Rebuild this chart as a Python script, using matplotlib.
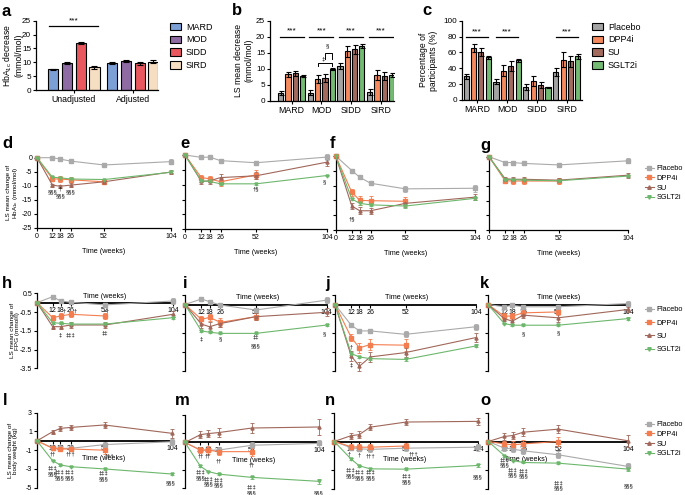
import numpy as np
import matplotlib.pyplot as plt
from matplotlib.lines import Line2D
from matplotlib.patches import Patch

plt.rcParams['font.family'] = ['Liberation Sans', 'DejaVu Sans']
plt.rcParams['axes.unicode_minus'] = False
plt.rcParams['mathtext.default'] = 'regular'

W, H = 685, 495

# ---------------- panel a ----------------
clusters = ['MARD', 'MOD', 'SIDD', 'SIRD']
a_groups = ['Unadjusted', 'Adjusted']
a_unadj = [7.45, 9.8, 17.05, 8.15]
a_unadj_err = [0.3, 0.45, 0.4, 0.45]
a_adj = [9.85, 10.6, 9.6, 10.2]
a_adj_err = [0.35, 0.4, 0.5, 0.5]
cluster_colors = ['#7C9FD6', '#8F6BA3', '#E8585E', '#F6DEC2']

# ---------------- panels b, c ----------------
treatments = ['Placebo', 'DPP4i', 'SU', 'SGLT2i']
b_vals = {
    'Placebo': [2.3, 2.5, 10.9, 2.6],
    'DPP4i': [8.2, 6.7, 15.5, 8.0],
    'SU': [8.5, 7.0, 16.0, 7.7],
    'SGLT2i': [7.7, 9.9, 17.1, 8.0],
}
b_err = {
    'Placebo': [0.6, 0.8, 0.9, 0.9],
    'DPP4i': [0.9, 1.3, 1.7, 1.5],
    'SU': [0.9, 1.3, 1.4, 1.2],
    'SGLT2i': [0.3, 0.4, 0.6, 0.5],
}
c_vals = {
    'Placebo': [30, 23, 16, 35],
    'DPP4i': [65, 37, 24, 51],
    'SU': [60, 43, 19, 49],
    'SGLT2i': [54, 50, 16, 55],
}
c_err = {
    'Placebo': [3, 3, 4, 5],
    'DPP4i': [5, 7, 6, 9],
    'SU': [5, 6, 4, 7],
    'SGLT2i': [2, 2, 1, 3],
}
bar_colors = {'Placebo': '#A3A3A3', 'DPP4i': '#F58A5E', 'SU': '#A26B5E', 'SGLT2i': '#73BA73'}
line_colors = {'Placebo': '#AAAAAA', 'DPP4i': '#F47D4F', 'SU': '#A0675A', 'SGLT2i': '#6DB76D'}
markers = {'Placebo': 's', 'DPP4i': 's', 'SU': '^', 'SGLT2i': 'v'}

# ---------------- time courses ----------------
weeks = [0, 12, 18, 26, 52, 104]

hba_mean = {
    'd': {'Placebo': [0, 0, -0.5, -1.2, -2.6, -1.4],
          'DPP4i': [0, -7.6, -7.6, -7.9, -8.6],
          'SU': [0, -9.8, -10.2, -9.8, -8.6, -5.1],
          'SGLT2i': [0, -7.0, -7.2, -7.6, -7.8, -5.2]},
    'e': {'Placebo': [0, -0.8, -0.7, -1.9, -2.6, -0.7],
          'DPP4i': [0, -7.6, -8.0, -9.0, -6.7],
          'SU': [0, -8.9, -8.7, -7.6, -7.0, -2.4],
          'SGLT2i': [0, -8.7, -8.9, -9.7, -9.7, -6.9]},
    'f': {'Placebo': [0, -4.9, -7.2, -9.2, -11.1, -10.9],
          'DPP4i': [0, -12.2, -15.0, -15.1, -15.3],
          'SU': [0, -16.9, -18.5, -18.5, -16.0, -13.9],
          'SGLT2i': [0, -14.5, -16.0, -16.5, -16.9, -14.3]},
    'g': {'Placebo': [0, -2.0, -2.0, -2.3, -2.8, -1.4],
          'DPP4i': [0, -8.2, -8.3, -8.3, -8.3],
          'SU': [0, -7.5, -7.7, -7.7, -8.0, -6.3],
          'SGLT2i': [0, -7.8, -7.8, -8.0, -8.2, -6.6]},
}
hba_err = {
    'd': {'Placebo': [0, 0.3, 0.3, 0.4, 0.4, 0.8], 'DPP4i': [0, 0.8, 0.9, 0.9, 0.9],
          'SU': [0, 0.5, 0.5, 0.6, 0.6, 0.6], 'SGLT2i': [0, 0.3, 0.3, 0.3, 0.3, 0.3]},
    'e': {'Placebo': [0, 0.3, 0.3, 0.5, 0.6, 1.0], 'DPP4i': [0, 1.0, 1.1, 1.3, 1.5],
          'SU': [0, 0.8, 0.9, 1.2, 1.2, 1.2], 'SGLT2i': [0, 0.3, 0.3, 0.3, 0.3, 0.3]},
    'f': {'Placebo': [0, 0.5, 0.6, 0.7, 0.9, 1.1], 'DPP4i': [0, 1.2, 1.4, 1.6, 1.5],
          'SU': [0, 1.0, 1.2, 1.1, 1.2, 1.1], 'SGLT2i': [0, 0.4, 0.4, 0.4, 0.5, 0.5]},
    'g': {'Placebo': [0, 0.4, 0.4, 0.5, 0.6, 0.8], 'DPP4i': [0, 0.8, 0.9, 1.0, 1.1],
          'SU': [0, 0.7, 0.7, 0.8, 0.8, 0.9], 'SGLT2i': [0, 0.3, 0.3, 0.3, 0.3, 0.3]},
}
fpg_mean = {
    'h': {'Placebo': [0, 0.32, 0.09, 0.02, -0.12, 0.09],
          'DPP4i': [0, -0.8, -0.71, -0.62, -0.71],
          'SU': [0, -1.28, -1.28, -1.19, -1.19, -0.62],
          'SGLT2i': [0, -1.07, -1.1, -1.14, -1.14, -0.8]},
    'i': {'Placebo': [0, 0.29, 0.15, -0.03, -0.29, 0.23],
          'DPP4i': [0, -0.78, -0.68, -0.94, -0.64],
          'SU': [0, -1.03, -1.17, -1.0, -0.64, -0.41],
          'SGLT2i': [0, -1.39, -1.46, -1.52, -1.52, -1.08]},
    'j': {'Placebo': [0, -1.09, -1.39, -1.39, -1.57, -1.17],
          'DPP4i': [0, -1.74, -2.28, -2.11, -2.14],
          'SU': [0, -2.72, -3.25, -2.76, -2.53, -1.74],
          'SGLT2i': [0, -2.58, -2.76, -2.85, -2.89, -2.18]},
    'k': {'Placebo': [0, -0.12, -0.04, -0.12, -0.12, 0.05],
          'DPP4i': [0, -0.61, -0.61, -0.44, -0.39],
          'SU': [0, -0.74, -0.88, -0.56, -0.7, -0.26],
          'SGLT2i': [0, -1.0, -1.09, -1.09, -1.09, -0.74]},
}
fpg_err = {
    'h': {'Placebo': [0, .1, .1, .1, .12, .15], 'DPP4i': [0, .15, .15, .15, .15],
          'SU': [0, .15, .15, .15, .15, .15], 'SGLT2i': [0, .05, .05, .05, .05, .05]},
    'i': {'Placebo': [0, .1, .1, .1, .12, .15], 'DPP4i': [0, .2, .2, .22, .2],
          'SU': [0, .2, .25, .2, .2, .2], 'SGLT2i': [0, .04, .04, .04, .04, .05]},
    'j': {'Placebo': [0, .1, .1, .1, .15, .15], 'DPP4i': [0, .2, .25, .3, .3],
          'SU': [0, .25, .25, .25, .25, .25], 'SGLT2i': [0, .06, .06, .06, .06, .08]},
    'k': {'Placebo': [0, .1, .1, .1, .1, .15], 'DPP4i': [0, .15, .15, .15, .15],
          'SU': [0, .15, .15, .15, .2, .15], 'SGLT2i': [0, .04, .04, .04, .04, .06]},
}
bw_mean = {
    'l': {'Placebo': [0, -0.75, -0.8, -0.8, -0.4, -0.1],
          'DPP4i': [0, -0.8, -0.87, -0.87, -1.0],
          'SU': [0, 0.97, 1.33, 1.43, 1.69, 0.8],
          'SGLT2i': [0, -2.12, -2.58, -2.76, -3.0, -3.54]},
    'm': {'Placebo': [0, -0.83, -0.83, -0.83, -0.3, -0.1],
          'DPP4i': [0, -0.83, -0.83, -1.0, -1.0],
          'SU': [0, 0.86, 0.97, 1.08, 1.58, 1.69],
          'SGLT2i': [0, -2.6, -3.17, -3.45, -3.81, -4.24]},
    'n': {'Placebo': [0, -0.65, -0.76, -0.83, -0.7, -0.6],
          'DPP4i': [0, -0.54, -0.6, -0.6, -0.47],
          'SU': [0, 0.61, 0.72, 1.51, 2.05, 2.12],
          'SGLT2i': [0, -1.83, -2.55, -2.88, -2.91, -2.52]},
    'o': {'Placebo': [0, -0.7, -0.8, -0.98, -1.4, -2.63],
          'DPP4i': [0, -0.25, -0.35, -0.25, 0.0],
          'SU': [0, 0.53, 0.63, 0.98, 1.3, 0.07],
          'SGLT2i': [0, -1.5, -2.0, -2.21, -2.28, -2.91]},
}
bw_err = {
    'l': {'Placebo': [0, .2, .2, .2, .3, .3], 'DPP4i': [0, .2, .2, .25, .4],
          'SU': [0, .2, .25, .3, .3, .5], 'SGLT2i': [0, .08, .08, .08, .1, .15]},
    'm': {'Placebo': [0, .25, .25, .3, .3, .4], 'DPP4i': [0, .3, .4, .4, .5],
          'SU': [0, .4, .4, .5, .5, .9], 'SGLT2i': [0, .1, .1, .1, .15, .25]},
    'n': {'Placebo': [0, .25, .25, .3, .3, .35], 'DPP4i': [0, .3, .3, .3, .35],
          'SU': [0, .3, .35, .35, .35, .35], 'SGLT2i': [0, .1, .1, .1, .1, .15]},
    'o': {'Placebo': [0, .25, .3, .3, .35, .4], 'DPP4i': [0, .3, .4, .4, .5],
          'SU': [0, .35, .4, .4, .45, .6], 'SGLT2i': [0, .1, .1, .1, .1, .15]},
}

# significance symbols: (week, value, text)
notes = {
    'd': [(12, -12.2, '§§§'), (18, -11.3, '†'), (18, -13.6, '§§§'), (26, -12.2, '§§§')],
    'e': [(52, -11.4, '†§'), (102, -8.9, '§')],
    'f': [(12, -21.1, '†§')],
    'g': [],
    'h': [(21, -0.45, '†'), (29, -0.45, '†'), (54, -0.45, '†'),
          (18, -1.72, '‡'), (26, -1.72, '‡‡‡'), (52, -1.64, '‡‡')],
    'i': [(12, -1.82, '‡'), (26, -1.82, '§'), (52, -1.69, '‡‡'), (52, -2.17, '§§§'), (102, -1.52, '§')],
    'j': [(12, -2.24, '†'), (12, -3.2, '‡')],
    'k': [(26, -1.53, '§'), (52, -1.47, '§')],
    'l': [(12, -1.44, '††'), (26, -1.44, '†††'), (56, -1.6, '†††'),
          (12, -2.87, '‡‡‡'), (12, -3.48, '§§§'), (17, -3.3, '‡‡‡'), (17, -3.9, '§§§'),
          (25, -3.3, '‡‡‡'), (25, -3.9, '§§§'), (51, -3.48, '‡‡‡'), (51, -4.1, '§§§'),
          (103, -4.5, '§§§')],
    'm': [(12, -1.47, '††'), (18, -1.47, '††'), (26, -2.0, '††'), (52, -2.45, '††'),
          (12, -3.27, '‡‡‡'), (12, -3.84, '§§§'), (18, -3.96, '‡‡‡'), (18, -4.5, '§§§'),
          (26, -4.05, '‡‡‡'), (26, -4.6, '§§§'), (52, -4.9, '‡‡‡'), (52, -5.5, '§§§'),
          (104, -5.5, '§§§')],
    'n': [(11, -1.29, '†'), (18, -1.45, '†'), (26, -1.55, '†††'), (57, -1.3, '†††'),
          (12, -3.0, '‡‡‡'), (12, -3.6, '§§§'), (18, -3.2, '‡‡‡'), (18, -3.85, '§§§'),
          (26, -3.2, '‡‡‡'), (26, -3.85, '§§§'), (52, -3.63, '‡‡‡'), (52, -4.24, '§§§'),
          (104, -3.7, '§§§')],
    'o': [(12, -1.93, '‡‡‡'), (12, -2.46, '§§§'), (18, -3.0, '‡‡‡'), (18, -3.55, '§§§'),
          (26, -3.1, '‡‡‡'), (26, -3.65, '§§§'), (52, -4.4, '‡‡‡'), (52, -4.9, '§§§'),
          (104, -4.7, '§§§')],
}

fig = plt.figure(figsize=(W / 100, H / 100), dpi=100)


def box(x0, y0, x1, y1):
    # axes rectangle given in pixel coordinates of the reference
    return fig.add_axes([x0 / W, 1 - y1 / H, (x1 - x0) / W, (y1 - y0) / H])


def clean(ax, size=5.9):
    for s in ['top', 'right']:
        ax.spines[s].set_visible(False)
    for s in ['left', 'bottom']:
        ax.spines[s].set_linewidth(0.9)
    ax.tick_params(length=2.2, width=0.8, labelsize=size, pad=1.3)


def plabel(x, y, t):
    fig.text(x / W, 1 - y / H, t, fontsize=12, fontweight='bold', va='baseline')


# ---------- a ----------
ax = box(36, 20.7, 158, 90)
clean(ax)
ax.tick_params(axis='x', labelsize=6.3)
step, bw = 0.235, 0.17
for k in range(4):
    off = (k - 1.5) * step
    ax.bar([0 + off, 1 + off], [a_unadj[k], a_adj[k]], bw, color=cluster_colors[k],
           edgecolor='black', linewidth=0.8,
           yerr=[a_unadj_err[k], a_adj_err[k]],
           error_kw=dict(elinewidth=0.8, capsize=2, capthick=0.8))
ax.set_xlim(-0.64, 1.43)
ax.set_ylim(0, 25)
ax.set_yticks([0, 5, 10, 15, 20, 25])
ax.set_xticks([0, 1])
ax.set_xticklabels(a_groups)
ax.plot([-0.42, 0.42], [23.2, 23.2], color='black', lw=0.9, clip_on=False)
ax.text(0, 23.6, '***', ha='center', va='bottom', fontsize=6)
ax.set_ylabel('HbA$_{1c}$ decrease\n(mmol/mol)', fontsize=6.2, linespacing=1.1)
ax.yaxis.set_label_coords(-0.1, 0.5)
fig.legend([Patch(facecolor=c, edgecolor='black', linewidth=0.8) for c in cluster_colors], clusters,
           loc='upper left', bbox_to_anchor=(166 / W, 1 - 19 / H), frameon=False, fontsize=6.5,
           handlelength=1.3, handleheight=0.9, handletextpad=0.5, labelspacing=0.42, borderaxespad=0)
plabel(2, 16, 'a')


def grouped(ax, vals, errs, step, bw):
    for k, t in enumerate(treatments):
        off = (k - 1.5) * step
        ax.bar(np.arange(4) + off, vals[t], bw, color=bar_colors[t], edgecolor='black',
               linewidth=0.8, yerr=errs[t], error_kw=dict(elinewidth=0.8, capsize=1.8, capthick=0.8))
    ax.set_xticks(range(4))
    ax.set_xticklabels(clusters)
    ax.tick_params(axis='x', labelsize=6.3)


# ---------- b ----------
ax = box(270, 20.7, 394, 100.7)
clean(ax)
grouped(ax, b_vals, b_err, 0.247, 0.17)
ax.set_xlim(-0.73, 3.45)
ax.set_ylim(0, 25)
ax.set_yticks([0, 5, 10, 15, 20, 25])
for g in range(4):
    ax.plot([g - 0.4, g + 0.4], [20, 20], color='black', lw=0.9)
    ax.text(g, 20.6, '***', ha='center', va='bottom', fontsize=6)
ax.plot([0.877, 0.877, 1.37, 1.37], [10.8, 11.8, 11.8, 10.8], color='black', lw=0.7)
ax.plot([1.123, 1.123, 1.37, 1.37], [12.9, 14.8, 14.8, 12.9], color='black', lw=0.7)
ax.text(1.08, 12.9, '‡', ha='center', va='center', fontsize=4.5)
ax.text(1.2, 17.0, '§', ha='center', va='center', fontsize=4.5)
ax.set_ylabel('LS mean decrease\n(mmol/mol)', fontsize=6.2, linespacing=1.1)
ax.yaxis.set_label_coords(-0.137, 0.5)
plabel(232, 15, 'b')

# ---------- c ----------
ax = box(462, 20.7, 582, 100)
clean(ax)
grouped(ax, c_vals, c_err, 0.247, 0.17)
ax.set_xlim(-0.51, 3.51)
ax.set_ylim(0, 100)
ax.set_yticks([0, 20, 40, 60, 80, 100])
for g in [0, 1, 3]:
    ax.plot([g - 0.37, g + 0.37], [80, 80], color='black', lw=0.9)
    ax.text(g, 82, '***', ha='center', va='bottom', fontsize=6)
ax.set_ylabel('Percentage of\nparticipants (%)', fontsize=6.2, linespacing=1.1)
ax.yaxis.set_label_coords(-0.2, 0.5)
fig.legend([Patch(facecolor=bar_colors[t], edgecolor='black', linewidth=0.8) for t in treatments], treatments,
           loc='upper left', bbox_to_anchor=(588 / W, 1 - 19 / H), frameon=False, fontsize=6.5,
           handlelength=1.3, handleheight=0.9, handletextpad=0.5, labelspacing=0.42, borderaxespad=0)
plabel(422, 15, 'c')


def time_panel(ax, means, errs, note):
    for t in treatments:
        y = means[t]
        ax.errorbar(weeks[:len(y)], y, yerr=errs[t], color=line_colors[t], marker=markers[t],
                    ms=2.2, lw=0.8, elinewidth=0.6, capsize=1.6, capthick=0.6, clip_on=False, zorder=3)
    for wk, yy, s in note:
        ax.text(wk, yy, s, ha='center', va='center', fontsize=4.2, clip_on=False, zorder=4)
    ax.set_xlim(0, 104)


def series_legend(x, y, spacing):
    hs = [Line2D([], [], color=line_colors[t], marker=markers[t], ms=2.5, lw=0.8) for t in treatments]
    fig.legend(hs, treatments, loc='upper left', bbox_to_anchor=(x / W, 1 - y / H), frameon=False,
               fontsize=5.3, handlelength=1.2, handletextpad=0.4, labelspacing=spacing, borderaxespad=0)


# ---------- row 2: HbA1c ----------
row2 = {'d': (37, 157.7, 171, 227.7), 'e': (185, 155, 327, 229.3),
        'f': (335.7, 156, 475, 230), 'g': (489, 156.7, 628.3, 230)}
for key, rect in row2.items():
    ax = box(*rect)
    clean(ax, 5)
    time_panel(ax, hba_mean[key], hba_err[key], notes[key])
    ax.set_ylim(-25, 0)
    ax.set_yticks([0, -5, -10, -15, -20, -25])
    ax.set_xticks(weeks)
    ax.set_xticklabels(['0', '12', '18', '26', '52', '104'])
    ax.set_xlabel('Time (weeks)', fontsize=5.2, labelpad=6)
    if key == 'd':
        ax.set_ylabel('LS mean change of\nHbA$_{1c}$ (mmol/mol)', fontsize=4.6, linespacing=1.0)
        ax.yaxis.set_label_coords(-0.13, 0.5)
    else:
        ax.set_yticklabels([])
series_legend(642, 162, 0.35)
plabel(2, 148.3, 'd')
plabel(180, 148.3, 'e')
plabel(330, 148.3, 'f')
plabel(480, 150, 'g')


def zero_axis(ax):
    ax.spines['bottom'].set_position(('data', 0))
    ax.spines['bottom'].set_linewidth(1.3)
    ax.spines['bottom'].set_color('black')
    ax.set_xticks(weeks[1:])
    ax.set_xticklabels(['12', '18', '26', '52', '104'])
    ax.tick_params(axis='x', length=2, pad=1)


# ---------- row 3: FPG ----------
row3 = {'h': (37, 293.3, 173, 368.3, 0.5), 'i': (185, 295, 326.7, 371, 0.51),
        'j': (335, 295, 476, 371, 0.51), 'k': (488, 295, 628.3, 371, 0.5)}
for key, (x0, y0, x1, y1, lx) in row3.items():
    ax = box(x0, y0, x1, y1)
    clean(ax, 5)
    time_panel(ax, fpg_mean[key], fpg_err[key], notes[key])
    ax.set_ylim(-3.5, 0.5)
    ax.set_yticks([0.5, -0.5, -1.5, -2.5, -3.5])
    zero_axis(ax)
    ax.set_xlabel('Time (weeks)', fontsize=5.2)
    ax.xaxis.set_label_coords(lx, 1.01)
    if key == 'h':
        ax.set_ylabel('LS mean change of\nFPG (mmol/l)', fontsize=4.6, linespacing=1.0)
        ax.yaxis.set_label_coords(-0.125, 0.5)
    else:
        ax.set_yticklabels([])
series_legend(642, 303, 0.85)
plabel(2, 288.3, 'h')
plabel(183, 288.3, 'i')
plabel(325, 288.3, 'j')
plabel(480, 288.3, 'k')

# ---------- row 4: body weight ----------
row4 = {'l': (37, 412.7, 172, 487.7, 0.49), 'm': (185, 415, 319, 488.3, 0.51),
        'n': (334.3, 413, 478, 489, 0.49), 'o': (488.3, 413, 628.3, 489, 0.27)}
for key, (x0, y0, x1, y1, lx) in row4.items():
    ax = box(x0, y0, x1, y1)
    clean(ax, 5)
    time_panel(ax, bw_mean[key], bw_err[key], notes[key])
    ax.set_ylim(-5, 3)
    ax.set_yticks([3, 1, -1, -3, -5])
    zero_axis(ax)
    ax.set_xlabel('Time (weeks)', fontsize=5.2)
    ax.xaxis.set_label_coords(lx, 0.43)
    if key == 'l':
        ax.set_ylabel('LS mean change of\nbody weight (kg)', fontsize=4.6, linespacing=1.0)
        ax.yaxis.set_label_coords(-0.14, 0.5)
    else:
        ax.set_yticklabels([])
series_legend(642, 418, 0.35)
plabel(3, 405, 'l')
plabel(175, 405, 'm')
plabel(325, 405, 'n')
plabel(480, 405, 'o')

fig.savefig('out.png', dpi=100)
